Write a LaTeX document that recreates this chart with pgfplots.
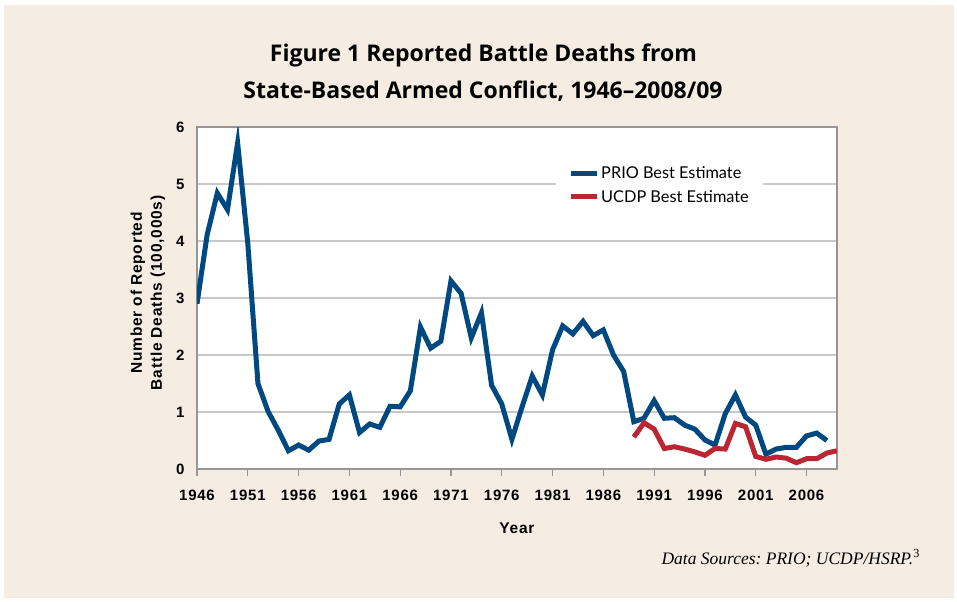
\documentclass[border=0pt]{standalone}
\usepackage{fontspec}
\setmainfont{Liberation Sans}
\newfontfamily\titlefont{Open Sans}
\newfontfamily\legfont{Lato}
\newfontfamily\srcfont{Liberation Serif}
\newfontfamily\lblfont[LetterSpace=5]{Liberation Sans}
\usepackage{pgfplots}
\usepackage{pgfplotstable}
\pgfplotsset{compat=1.18}

\definecolor{bg}{RGB}{245,236,226}
\definecolor{prio}{RGB}{0,72,128}
\definecolor{ucdp}{RGB}{186,38,50}
\definecolor{gridc}{RGB}{200,200,200}
\definecolor{axc}{RGB}{150,150,150}

% PRIO best estimate, 100,000s
\pgfplotstableread{
year val
1946 2.90
1947 4.11
1948 4.84
1949 4.55
1950 5.72
1951 3.96
1952 1.50
1953 1.01
1954 0.68
1955 0.32
1956 0.42
1957 0.33
1958 0.49
1959 0.52
1960 1.14
1961 1.30
1962 0.64
1963 0.79
1964 0.73
1965 1.10
1966 1.09
1967 1.37
1968 2.49
1969 2.12
1970 2.24
1971 3.30
1972 3.08
1973 2.30
1974 2.74
1975 1.47
1976 1.14
1977 0.52
1978 1.09
1979 1.63
1980 1.30
1981 2.09
1982 2.51
1983 2.37
1984 2.59
1985 2.34
1986 2.44
1987 2.00
1988 1.71
1989 0.83
1990 0.89
1991 1.20
1992 0.89
1993 0.90
1994 0.77
1995 0.70
1996 0.51
1997 0.42
1998 0.97
1999 1.30
2000 0.91
2001 0.77
2002 0.26
2003 0.35
2004 0.38
2005 0.38
2006 0.58
2007 0.63
2008 0.50
}\prio

% UCDP best estimate, 100,000s
\pgfplotstableread{
year val
1989 0.56
1990 0.81
1991 0.70
1992 0.36
1993 0.39
1994 0.35
1995 0.30
1996 0.24
1997 0.36
1998 0.35
1999 0.80
2000 0.74
2001 0.22
2002 0.17
2003 0.21
2004 0.19
2005 0.11
2006 0.18
2007 0.18
2008 0.28
2009 0.32
}\ucdp

\begin{document}
\frenchspacing
\begin{tikzpicture}
\fill[white] (-197bp,-133bp) rectangle (760bp,469bp);
\fill[bg] (-193bp,-129bp) rectangle (757bp,464bp);

\node[anchor=base, font=\titlefont\bfseries\fontsize{23bp}{28bp}\selectfont]
  at (286.5bp,407bp) {Figure 1 Reported Battle Deaths from};
\node[anchor=base, font=\titlefont\bfseries\fontsize{23bp}{28bp}\selectfont]
  at (286bp,370.7bp) {State-Based Armed Conflict, 1946–2008/09};

\begin{axis}[
    at={(0,0)}, anchor=south west,
    scale only axis,
    width=640bp, height=342bp,
    xmin=1946, xmax=2009,
    ymin=0, ymax=6,
    axis background/.style={fill=white},
    xtick={1946,1951,...,2006},
    ytick={0,1,...,6},
    xtick pos=bottom,
    /pgf/number format/1000 sep={},
    /pgf/number format/assume math mode=true,
    tick label style={font=\lblfont\bfseries\fontsize{15bp}{18bp}\selectfont},
    xticklabel style={yshift=-11bp},
    yticklabel style={xshift=-2bp},
    tick align=outside,
    major tick length=7bp,
    xtick style={axc, line width=1.2bp},
    ytick style={draw=none},
    ymajorgrids,
    grid style={gridc, line width=1.2bp},
    axis line style={axc, line width=1.2bp},
    xlabel={Year},
    xlabel style={at={(axis description cs:0.5,-0.19)}, anchor=base,
      font=\lblfont\bfseries\fontsize{15.5bp}{18bp}\selectfont},
    ylabel={Number of Reported\\Battle Deaths (100,000s)},
    ylabel style={at={(axis description cs:-0.0766,0.515)}, anchor=center,
      align=center, rotate=0,
      font=\lblfont\bfseries\fontsize{15.5bp}{20bp}\selectfont},
    legend style={at={(axis description cs:0.561,0.905)}, anchor=north west,
      fill=white, draw=none, inner xsep=12bp, inner ysep=5bp,
      font=\legfont\fontsize{16.3bp}{19bp}\selectfont,
      row sep=6bp},
    legend cell align=left,
    legend image code/.code={\draw[#1] (0bp,0bp) -- (20bp,0bp);
      \path (0bp,0bp) -- (26bp,0bp);},
]
\addplot[prio, line width=5bp] table[x=year, y=val] {\prio};
\addlegendentry{PRIO Best Estimate}
\addplot[ucdp, line width=5bp] table[x=year, y=val] {\ucdp};
\addlegendentry{UCDP Best Estimate}
\end{axis}

\node[anchor=base west, font=\srcfont\itshape\fontsize{17.5bp}{20bp}\selectfont]
  at (461bp,-95bp) {Data Sources: PRIO; UCDP/HSRP.\textsuperscript{\upshape 3}};
\end{tikzpicture}
\end{document}
